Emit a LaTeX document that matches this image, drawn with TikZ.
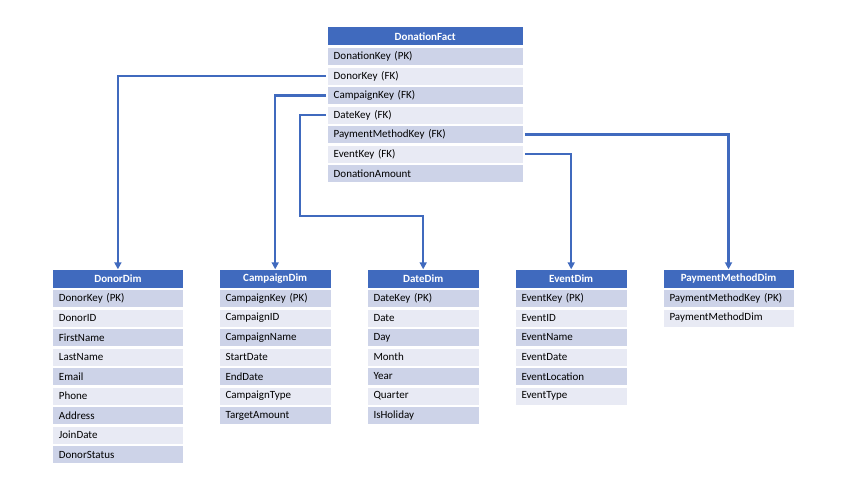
\documentclass[tikz,border=0pt]{standalone}
\usepackage{fontspec}
\setmainfont{Carlito}
\usetikzlibrary{arrows.meta}

\definecolor{headblue}{RGB}{64,106,190}
\definecolor{rowdark}{RGB}{205,211,232}
\definecolor{rowlight}{RGB}{232,234,244}

% name, left, top, width, title, fields
\newcommand{\erdtable}[6]{%
  \pgfmathsetmacro{\tw}{#4-12}
  \node [tablehead, text width=\tw pt] (#1-h) at (#2,#3) {#5};
  \foreach \f [count=\i] in {#6} {
    \ifodd\i \def\rowcol{rowdark}\else\def\rowcol{rowlight}\fi
    \node [tablerow, fill=\rowcol, text width=\tw pt] (#1-\i) at (#2,#3+20.5+\i*19.5-19.5) {\f};
  }
}

\begin{document}
\begin{tikzpicture}[x=1pt, y=-1pt,
    tablehead/.style={anchor=north west, fill=headblue, text=white, font=\fontsize{11}{13}\selectfont\bfseries,
      minimum height=18pt, inner xsep=6pt, inner ysep=0pt, align=center},
    tablerow/.style={anchor=north west, font=\fontsize{11}{13}\selectfont,
      minimum height=17pt, inner xsep=6pt, inner ysep=0pt, align=left},
    link/.style={draw=headblue, line width=2.4pt, shorten <=2pt, -{Triangle[length=7pt,width=7pt]}}]
  \useasboundingbox (0,0) rectangle (866,503);

  \erdtable{fact}{327.5}{27.3}{195}{DonationFact}{DonationKey (PK),DonorKey (FK),CampaignKey (FK),DateKey (FK),PaymentMethodKey (FK),EventKey (FK),DonationAmount}
  \erdtable{donor}{52.7}{269.3}{130}{DonorDim}{DonorKey (PK),DonorID,FirstName,LastName,Email,Phone,Address,JoinDate,DonorStatus}
  \erdtable{campaign}{219.3}{269.3}{111.4}{CampaignDim}{CampaignKey (PK),CampaignID,CampaignName,StartDate,EndDate,CampaignType,TargetAmount}
  \erdtable{date}{367.3}{269.3}{111.4}{DateDim}{DateKey (PK),Date,Day,Month,Year,Quarter,IsHoliday}
  \erdtable{event}{515.3}{269.3}{111.4}{EventDim}{EventKey (PK),EventID,EventName,EventDate,EventLocation,EventType}
  \erdtable{pay}{663.3}{269.3}{130}{PaymentMethodDim}{PaymentMethodKey (PK),PaymentMethodDim}

  \coordinate (datebend) at (300,216);

  \draw [link] (fact-2.west) -| (donor-h.north);
  \draw [link] (fact-3.west) -| (campaign-h.north);
  \draw [link] (fact-4.west) -| (datebend) -| (date-h.north);
  \draw [link] (fact-5.east) -| (pay-h.north);
  \draw [link] (fact-6.east) -| (event-h.north);
\end{tikzpicture}
\end{document}
